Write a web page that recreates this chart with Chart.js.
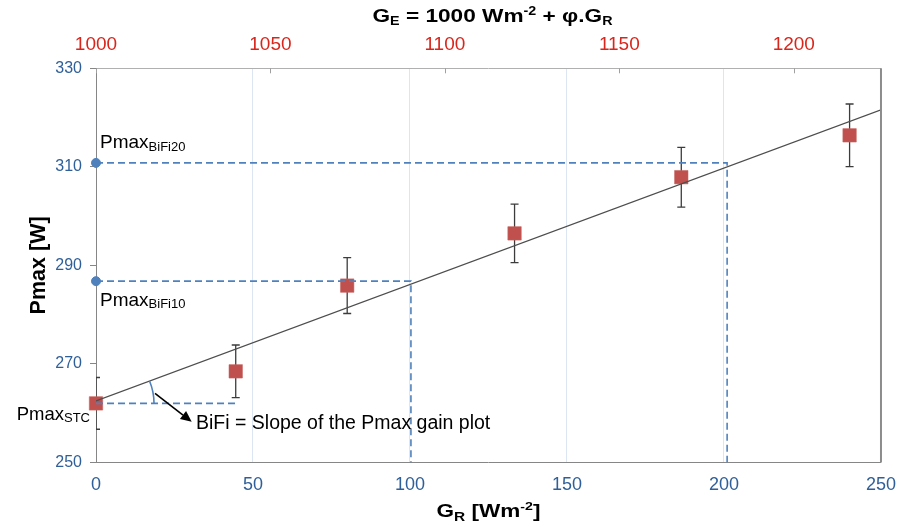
<!DOCTYPE html>
<html><head><meta charset="utf-8">
<script src="https://cdn.jsdelivr.net/npm/chart.js@4"></script>
<style>html,body{margin:0;padding:0;background:#fff}#wrap{width:908px;height:526px}</style>
</head><body><div id="wrap"><canvas id="c" width="908" height="526"></canvas></div>
<script>
// ---- data ----
const grValues   = [0, 44.5, 80, 133.3, 186.4, 240];
const pmaxValues = [262.0, 268.5, 285.9, 296.5, 307.9, 316.4];
const pmaxErrors = [5.25, 5.35, 5.66, 5.93, 6.06, 6.36];
const fitX = [0, 250];
const fitY = [262.5, 321.55];
const bifi20X = [0, 201, 201];
const bifi20Y = [310.8, 310.8, 250];
const bifi10X = [0, 100.3, 100.3];
const bifi10Y = [286.8, 286.8, 250];
const stcX = [0, 44.5];
const stcY = [262.0, 262.0];
const refDotX = [0, 0];
const refDotY = [310.8, 286.8];
const xTicks = [0, 50, 100, 150, 200, 250];
const yTicks = [250, 270, 290, 310, 330];
const topTicks = [1000, 1050, 1100, 1150, 1200];
const phi = 0.9;

const FONT = '"Liberation Sans", Arial, sans-serif';
const pts = (xs, ys) => xs.map((x, i) => ({x, y: ys[i]}));
const BLUE = '#4f81bd';
const plain = v => String(v);

function drawRich(ctx, parts, x, y, align, targetW, color) {
  ctx.save();
  let w = 0;
  parts.forEach(p => { ctx.font = (p.b ? 'bold ' : '') + p.s + 'px ' + FONT; p.w = ctx.measureText(p.t).width; w += p.w; });
  const sx = targetW ? targetW / w : 1;
  const tw = w * sx;
  const x0 = align === 'center' ? x - tw / 2 : align === 'right' ? x - tw : x;
  ctx.translate(x0, y); ctx.scale(sx, 1);
  ctx.textBaseline = 'alphabetic'; ctx.textAlign = 'left';
  ctx.fillStyle = color || '#000';
  let cx = 0;
  parts.forEach(p => { ctx.font = (p.b ? 'bold ' : '') + p.s + 'px ' + FONT; ctx.fillText(p.t, cx, p.dy || 0); cx += p.w; });
  ctx.restore();
}

const errorBars = {
  id: 'errorBars',
  beforeDatasetsDraw(chart) {
    const {ctx, chartArea: a, scales: {x, y}} = chart;
    ctx.save();
    ctx.beginPath(); ctx.rect(a.left, a.top, a.right - a.left, a.bottom - a.top); ctx.clip();
    ctx.strokeStyle = '#3c3c3c'; ctx.lineWidth = 1.3;
    grValues.forEach((g, i) => {
      const px = x.getPixelForValue(g);
      const t = y.getPixelForValue(pmaxValues[i] + pmaxErrors[i]);
      const b = y.getPixelForValue(pmaxValues[i] - pmaxErrors[i]);
      ctx.beginPath();
      ctx.moveTo(px, t); ctx.lineTo(px, b);
      ctx.moveTo(px - 4, t); ctx.lineTo(px + 4, t);
      ctx.moveTo(px - 4, b); ctx.lineTo(px + 4, b);
      ctx.stroke();
    });
    ctx.restore();
  }
};

const decor = {
  id: 'decor',
  afterDraw(chart) {
    const {ctx, chartArea: a, scales: {x, y, x2}} = chart;
    ctx.save();
    // right border
    ctx.strokeStyle = '#8c8c8c'; ctx.lineWidth = 2;
    ctx.beginPath(); ctx.moveTo(a.right, a.top); ctx.lineTo(a.right, a.bottom); ctx.stroke();
    // top inward ticks
    ctx.strokeStyle = '#a0a0a0'; ctx.lineWidth = 1;
    topTicks.forEach(v => {
      const px = Math.round(x2.getPixelForValue(v)) + 0.5;
      ctx.beginPath(); ctx.moveTo(px, a.top); ctx.lineTo(px, a.top + 5); ctx.stroke();
    });
    // angle arc
    const ox = x.getPixelForValue(0), oy = y.getPixelForValue(stcY[0]);
    const fx0 = x.getPixelForValue(fitX[0]), fy0 = y.getPixelForValue(fitY[0]);
    const fx1 = x.getPixelForValue(fitX[1]), fy1 = y.getPixelForValue(fitY[1]);
    const slope = (fy1 - fy0) / (fx1 - fx0);
    const r = 58;
    let t = r; for (let k = 0; k < 30; k++) { const dx = fx0 + t - ox, dy = fy0 + slope * t - oy; const d = Math.hypot(dx, dy); t *= r / d; }
    const ang = Math.atan2(fy0 + slope * t - oy, fx0 + t - ox);
    ctx.strokeStyle = BLUE; ctx.lineWidth = 1.6;
    ctx.beginPath(); ctx.arc(ox, oy, r, ang, 0); ctx.stroke();
    // arrow
    const ax0 = ox + 59, ay0 = oy - 10, ax1 = ox + 95.7, ay1 = oy + 18.4;
    ctx.strokeStyle = '#000'; ctx.fillStyle = '#000'; ctx.lineWidth = 1.6;
    const th = Math.atan2(ay1 - ay0, ax1 - ax0);
    const hl = 11, hw = 5;
    const bx = ax1 - hl * Math.cos(th), by = ay1 - hl * Math.sin(th);
    ctx.beginPath(); ctx.moveTo(ax0, ay0); ctx.lineTo(bx, by); ctx.stroke();
    ctx.beginPath(); ctx.moveTo(ax1, ay1);
    ctx.lineTo(bx + hw * Math.sin(th), by - hw * Math.cos(th));
    ctx.lineTo(bx - hw * Math.sin(th), by + hw * Math.cos(th));
    ctx.closePath(); ctx.fill();
    ctx.restore();

    // annotation texts
    drawRich(ctx, [{t: 'BiFi = Slope of the Pmax gain plot', s: 19.5}], ox + 100, oy + 26, 'left');
    const y20 = y.getPixelForValue(refDotY[0]), y10 = y.getPixelForValue(refDotY[1]);
    drawRich(ctx, [{t: 'Pmax', s: 19}, {t: 'BiFi20', s: 13, dy: 2.6}], a.left + 4, y20 - 15, 'left');
    drawRich(ctx, [{t: 'Pmax', s: 19}, {t: 'BiFi10', s: 13, dy: 2.6}], a.left + 4, y10 + 24.7, 'left');
    drawRich(ctx, [{t: 'Pmax', s: 18.5}, {t: 'STC', s: 13, dy: 2.4}], a.left - 6, oy + 16.2, 'right');

    // axis titles
    const cx = (a.left + a.right) / 2;
    drawRich(ctx, [{t: 'G', s: 19, b: 1}, {t: 'E', s: 12, b: 1, dy: 3}, {t: ' = 1000 Wm', s: 19, b: 1},
      {t: '-2', s: 12, b: 1, dy: -7}, {t: ' + φ.G', s: 19, b: 1}, {t: 'R', s: 12, b: 1, dy: 3}], cx + 4, 22, 'center', 240);
    drawRich(ctx, [{t: 'G', s: 17.5, b: 1}, {t: 'R', s: 12, b: 1, dy: 4}, {t: ' [Wm', s: 17.5, b: 1},
      {t: '-2', s: 11, b: 1, dy: -7}, {t: ']', s: 17.5, b: 1}], cx, 516.7, 'center', 104);
    ctx.save();
    ctx.translate(45, (a.top + a.bottom) / 2);
    ctx.rotate(-Math.PI / 2);
    drawRich(ctx, [{t: 'Pmax [W]', s: 21.5, b: 1}], 0, 0, 'center');
    ctx.restore();
  }
};

new Chart(document.getElementById('c'), {
  type: 'scatter',
  data: {
    datasets: [
      {data: pts(fitX, fitY), showLine: true, borderColor: '#4d4d4d', borderWidth: 1.2, pointRadius: 0, xAxisID: 'x', yAxisID: 'y'},
      {data: pts(bifi20X, bifi20Y), showLine: true, borderColor: BLUE, borderWidth: 1.6, borderDash: [7, 4], pointRadius: 0, xAxisID: 'x', yAxisID: 'y'},
      {data: pts(bifi10X, bifi10Y), showLine: true, borderColor: BLUE, borderWidth: 1.6, borderDash: [7, 4], pointRadius: 0, xAxisID: 'x', yAxisID: 'y'},
      {data: pts(stcX, stcY), showLine: true, borderColor: BLUE, borderWidth: 1.6, borderDash: [7, 4], pointRadius: 0, xAxisID: 'x', yAxisID: 'y'},
      {data: pts(refDotX, refDotY), showLine: false, pointRadius: 4.5, pointBackgroundColor: BLUE, pointBorderColor: BLUE, clip: false, xAxisID: 'x', yAxisID: 'y'},
      {data: pts(grValues, pmaxValues), showLine: false, pointStyle: 'rect', pointRadius: 9.5, pointBackgroundColor: '#c0504d', pointBorderColor: 'rgba(200,100,97,0.55)', pointBorderWidth: 1, clip: false, xAxisID: 'x', yAxisID: 'y'}
    ]
  },
  options: {
    responsive: false, animation: false, devicePixelRatio: 1, events: [],
    layout: {padding: {left: 0, top: 0, right: 26.3, bottom: 0}},
    plugins: {legend: {display: false}, tooltip: {enabled: false}},
    scales: {
      x: {
        type: 'linear', position: 'bottom', min: 0, max: 250,
        afterBuildTicks: s => { s.ticks = xTicks.map(v => ({value: v})); },
        afterFit: s => { s.height = 63.5; },
        grid: {color: '#dce6f2', lineWidth: 1, drawTicks: false},
        border: {display: true, color: '#868686', width: 1},
        ticks: {color: '#2f5f98', font: {family: FONT, size: 18}, padding: 12, maxRotation: 0, callback: plain}
      },
      x2: {
        type: 'linear', position: 'top', min: 1000, max: 1000 + phi * 250,
        afterBuildTicks: s => { s.ticks = topTicks.map(v => ({value: v})); },
        afterFit: s => { s.height = 68.3; },
        grid: {drawOnChartArea: false, drawTicks: false},
        border: {display: true, color: '#b0b0b0', width: 1},
        ticks: {color: '#d9261c', font: {family: FONT, size: 19}, padding: 12, maxRotation: 0, callback: plain}
      },
      y: {
        type: 'linear', position: 'left', min: 250, max: 330,
        afterBuildTicks: s => { s.ticks = yTicks.map(v => ({value: v})); },
        afterFit: s => { s.width = 96; },
        grid: {drawOnChartArea: false, drawTicks: true, tickLength: 6, color: '#868686'},
        border: {display: true, color: '#868686', width: 1},
        ticks: {color: '#2f5f98', font: {family: FONT, size: 16}, padding: 8, callback: plain}
      }
    }
  },
  plugins: [errorBars, decor]
});
</script>
</body></html>
